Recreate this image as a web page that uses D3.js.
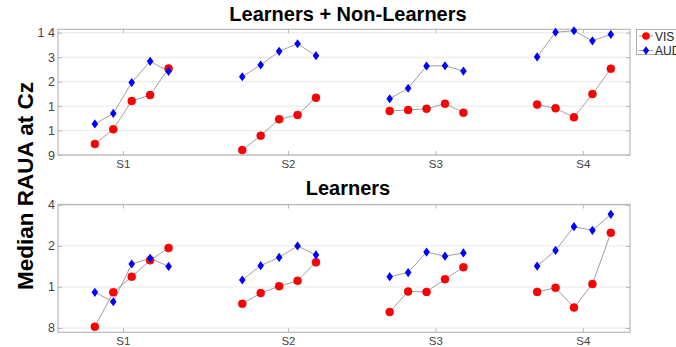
<!DOCTYPE html>
<html><head><meta charset="utf-8">
<script src="https://cdn.jsdelivr.net/npm/d3@7"></script>
<style>body{margin:0;background:#fff;}svg{display:block;font-family:"Liberation Sans",Arial,sans-serif;}</style>
</head><body><svg id="c" width="676" height="347"></svg>
<script>
const sessions = ["S1","S2","S3","S4"];
const sessionTickPos = [0.94, 2.06, 3.06, 4.06];
const pointOffsets = [-0.25, -0.125, 0, 0.125, 0.25];

// Top panel: Learners + Non-Learners (values per session, 5 points each)
const topVIS = [
  [0.45, 1.05, 2.21, 2.45, 3.54],
  [0.20, 0.79, 1.46, 1.64, 2.34],
  [1.80, 1.84, 1.89, 2.10, 1.73],
  [2.06, 1.91, 1.54, 2.49, 3.53]
];
const topAUD = [
  [1.27, 1.70, 2.96, 3.83, 3.42],
  [3.20, 3.68, 4.24, 4.55, 4.06],
  [2.30, 2.73, 3.64, 3.65, 3.43],
  [4.01, 5.02, 5.08, 4.67, 4.93]
];
const topTickVals = [0, 1, 2, 3, 4, 5];
const topTickLabels = ["9", "1", "1", "2", "3", "1 4"];

// Bottom panel: Learners
const botVIS = [
  [0.03, 0.87, 1.25, 1.65, 1.95],
  [0.59, 0.85, 1.02, 1.15, 1.60],
  [0.39, 0.89, 0.88, 1.19, 1.48],
  [0.88, 0.98, 0.50, 1.07, 2.32]
];
const botAUD = [
  [0.87, 0.64, 1.56, 1.70, 1.50],
  [1.17, 1.52, 1.72, 2.00, 1.78],
  [1.25, 1.35, 1.85, 1.75, 1.83],
  [1.51, 1.89, 2.47, 2.38, 2.77]
];
const botTickVals = [0, 1, 2, 3];
const botTickLabels = ["8", "1", "2", "4"];

const seriesNames = ["VIS", "AUD"];
const seriesColors = ["#ff0000", "#0000ff"];

const svg = d3.select("#c");
const L = 58, R = 630;
const x = d3.scaleLinear().domain([0.5, 4.38]).range([L, R]);

function panel(cfg) {
  const y = d3.scaleLinear().domain(cfg.ydom).range([cfg.bottom, cfg.top]);
  const g = svg.append("g");
  g.selectAll("line.grid").data(cfg.tickVals).join("line")
    .attr("x1", L).attr("x2", R).attr("y1", d => y(d)).attr("y2", d => y(d))
    .attr("stroke", "#e8e8e8").attr("stroke-width", 1);
  g.append("rect").attr("x", L).attr("y", cfg.top).attr("width", R - L).attr("height", cfg.bottom - cfg.top)
    .attr("fill", "none").attr("stroke", "#b8b8b8").attr("stroke-width", 1.2);
  const ya = d3.axisLeft(y).tickValues(cfg.tickVals).tickSize(-4).tickPadding(3)
    .tickFormat((d, i) => cfg.tickLabels[i]);
  const yg = g.append("g").attr("transform", `translate(${L},0)`).call(ya);
  yg.select(".domain").remove();
  yg.selectAll("line").attr("stroke", "#b8b8b8");
  yg.selectAll("text").attr("font-size", 12.5).attr("fill", "#444");
  const yr = d3.axisRight(y).tickValues(cfg.tickVals).tickSize(-4).tickFormat("");
  const yrg = g.append("g").attr("transform", `translate(${R},0)`).call(yr);
  yrg.select(".domain").remove(); yrg.selectAll("line").attr("stroke", "#b8b8b8");
  const xa = d3.axisBottom(x).tickValues(sessionTickPos).tickSize(-4).tickPadding(5)
    .tickFormat((d, i) => sessions[i]);
  const xg = g.append("g").attr("transform", `translate(0,${cfg.bottom})`).call(xa);
  xg.select(".domain").remove();
  xg.selectAll("line").attr("stroke", "#b8b8b8");
  xg.selectAll("text").attr("font-size", 11.5).attr("fill", "#444");
  const xt = d3.axisTop(x).tickValues(sessionTickPos).tickSize(-4).tickFormat("");
  const xtg = g.append("g").attr("transform", `translate(0,${cfg.top})`).call(xt);
  xtg.select(".domain").remove(); xtg.selectAll("line").attr("stroke", "#b8b8b8");
  g.append("text").attr("x", 348).attr("y", cfg.titleY).attr("text-anchor", "middle")
    .attr("font-size", 20).attr("font-weight", "bold").attr("fill", "#000").text(cfg.title);
  const line = d3.line().x(d => x(d.x)).y(d => y(d.v));
  [cfg.vis, cfg.aud].forEach((ser) => {
    ser.forEach((vals, s) => {
      const pts = vals.map((v, i) => ({x: s + 1 + pointOffsets[i], v}));
      g.append("path").datum(pts).attr("d", line).attr("fill", "none")
        .attr("stroke", "#a0a0a0").attr("stroke-width", 1);
    });
  });
  [cfg.vis, cfg.aud].forEach((ser, si) => {
    ser.forEach((vals, s) => {
      const pts = vals.map((v, i) => ({x: s + 1 + pointOffsets[i], v}));
      if (si === 0) {
        g.selectAll(null).data(pts).join("circle")
          .attr("cx", d => x(d.x)).attr("cy", d => y(d.v)).attr("r", 4)
          .attr("fill", seriesColors[0]).attr("stroke", "#d00").attr("stroke-width", 0.5);
      } else {
        g.selectAll(null).data(pts).join("path")
          .attr("transform", d => `translate(${x(d.x)},${y(d.v)})`)
          .attr("d", "M0,-4.6L3.3,0L0,4.6L-3.3,0Z").attr("fill", seriesColors[1]);
      }
    });
  });
}

panel({top: 29.3, bottom: 155, ydom: [0, 5.14], tickVals: topTickVals, tickLabels: topTickLabels,
  vis: topVIS, aud: topAUD, title: "Learners + Non-Learners", titleY: 21});
panel({top: 204.5, bottom: 332.3, ydom: [-0.105, 3.01], tickVals: botTickVals, tickLabels: botTickLabels,
  vis: botVIS, aud: botAUD, title: "Learners", titleY: 195});

svg.append("text").attr("transform", "translate(33,186) rotate(-90)").attr("text-anchor", "middle")
  .attr("font-size", 22.5).attr("font-weight", "bold").attr("fill", "#000").text("Median RAUA at Cz");

const lg = svg.append("g");
lg.append("rect").attr("x", 636.5).attr("y", 29.5).attr("width", 60).attr("height", 25)
  .attr("fill", "#fff").attr("stroke", "#b0b0b0");
seriesNames.forEach((n, i) => {
  const yy = 36 + i * 14.5;
  lg.append("line").attr("x1", 639).attr("x2", 653).attr("y1", yy).attr("y2", yy).attr("stroke", "#9a9a9a");
  if (i === 0) lg.append("circle").attr("cx", 646).attr("cy", yy).attr("r", 3.8).attr("fill", seriesColors[0]);
  else lg.append("path").attr("transform", `translate(646,${yy})`).attr("d", "M0,-4.3L3.1,0L0,4.3L-3.1,0Z").attr("fill", seriesColors[1]);
  lg.append("text").attr("x", 655).attr("y", yy + 4.5).attr("font-size", 12).attr("fill", "#222").text(n);
});
</script></body></html>
